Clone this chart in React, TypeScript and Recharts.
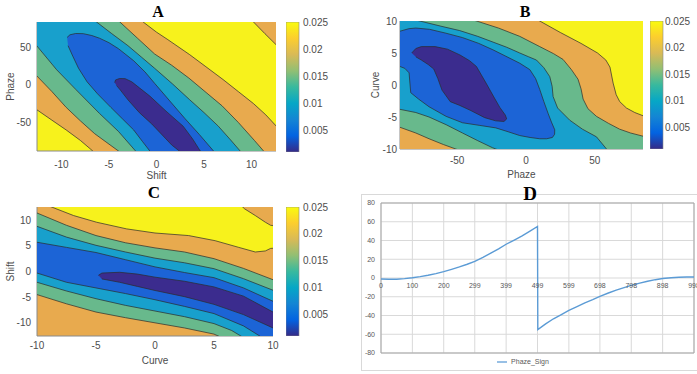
import React from "react";
import {
  Bar,
  BarChart,
  CartesianGrid,
  Label,
  Legend,
  Line,
  LineChart,
  ReferenceArea,
  Scatter,
  ScatterChart,
  XAxis,
  YAxis,
} from "recharts";

type Pt = [number, number];

// contour colours (parula levels, low -> high)
const NAVY = "#3b2c8e";
const BLUE = "#1c64d6";
const TEAL = "#18a0cc";
const GREEN = "#68b98c";
const ORANGE = "#e8aa4e";
const YELLOW = "#f7f21c";
const EDGE = "#2b2b2b";
const BOX = "#8a8a8a";
const SANS = '"Liberation Sans", Arial, sans-serif';
const TICK = { fontSize: 10, fill: "#4d4d4d", fontFamily: SANS };

const PARULA: [number, string][] = [
  [0, "#352a87"],
  [0.125, "#0363e1"],
  [0.25, "#1485d4"],
  [0.375, "#06a7c6"],
  [0.5, "#38b99e"],
  [0.625, "#92bf73"],
  [0.75, "#d9ba56"],
  [0.875, "#fcce2e"],
  [1, "#f9fb0e"],
];

// shared axis ticks
const SHIFT_TICKS = [-10, -5, 0, 5, 10];
const CURVE_TICKS = [-10, -5, 0, 5, 10];
const PHAZE_TICKS = [-50, 0, 50];
const SHIFT_DOMAIN: [number, number] = [-12.566, 12.566];
const CURVE_DOMAIN: [number, number] = [-10, 10];
const A_PHAZE_DOMAIN: [number, number] = [-88, 83.5];
const B_PHAZE_DOMAIN: [number, number] = [-91.5, 85];

// colorbar
const CB_RANGE: [number, number] = [0.00095, 0.025];
const CB_TICKS = [0.005, 0.01, 0.015, 0.02, 0.025];

// ---- panel A: x = Shift, y = Phaze (region outlines, painted low level last)
const A_ORANGE: Pt[] = [
  [-13.5, -25], [-12.6, -33], [-11, -47], [-9.5, -60], [-8, -74], [-6.7, -88], [-6.05, -95],
  [13.5, -95], [13.5, -67], [12.6, -55], [11.5, -40], [10.2, -25], [8.6, -9], [7, 7],
  [5.2, 24], [3.5, 40], [1.2, 60], [0, 70], [-1.4, 83.5], [-2.2, 92], [-13.5, 92],
];
const A_ORANGE_CORNER: Pt[] = [
  [9.54, 92], [10.2, 83.5], [11.4, 68], [12.6, 53], [13.5, 41.8], [13.5, 92],
];
const A_GREEN: Pt[] = [
  [-13.5, 23.8], [-12.6, 12], [-11, -9], [-9.5, -30], [-8, -48], [-6.5, -65], [-5.2, -77],
  [-4, -88], [-3.24, -95], [11.74, -95], [11.26, -88], [10.3, -74], [8.6, -50], [6.9, -28],
  [5.1, -9], [3.4, 9], [1.6, 26], [-0.2, 41], [-2, 62], [-3.85, 83.5], [-4.58, 92], [-13.5, 92],
];
const A_TEAL: Pt[] = [
  [-13.5, 65.7], [-12.6, 52], [-10.5, 20], [-8.5, -6], [-6, -38], [-4, -62], [-2.2, -88],
  [-1.7, -95], [9.28, -95], [8.8, -88], [7.7, -72], [6.5, -55], [5, -37], [3.5, -20],
  [1.7, 1], [-0.2, 22], [-1.6, 37], [-3, 52], [-4.7, 68], [-6.3, 83.5], [-7.18, 92], [-13.5, 92],
];
const A_BLUE: Pt[] = [
  [-9.4, 63], [-9.1, 66.5], [-8.5, 68.2], [-7.7, 68], [-6.8, 65.5], [-6, 62], [-5, 56],
  [-4, 48], [-2.4, 32], [-1.2, 17], [-0.2, 2], [1.5, -23], [3, -45], [4.5, -66], [6, -88],
  [6.48, -95], [-0.26, -95], [-0.7, -88], [-1.5, -75], [-2.4, -60], [-3.6, -45], [-4.8, -30],
  [-6.2, -12], [-7.3, 4], [-8.2, 22], [-8.8, 38], [-9.3, 52],
];
const A_NAVY: Pt[] = [
  [-4.4, 3], [-4.3, 6.5], [-3.9, 8.3], [-3.3, 8.2], [-2.6, 4], [-1.8, -4], [-0.7, -15],
  [1, -35], [2.8, -55], [3.8, -72], [4.6, -88], [5.2, -95], [3.0, -95], [2.4, -88],
  [1.6, -80], [1, -72], [-0.5, -52], [-1.8, -37], [-3, -20], [-3.8, -7], [-4.2, -1],
];

// ---- panel B: x = Phaze, y = Curve
const B_ORANGE: Pt[] = [
  [1.7, 11], [10, 10], [25, 8.2], [40, 6.5], [52, 5], [58, 3.9], [61, 2.8], [63.3, 0.3],
  [65.5, -1.5], [68.1, -2.6], [73, -3.6], [79, -4.3], [85, -4.8], [95, -5.6],
  [95, -12], [-95, -12], [-95, 11],
];
const B_GREEN: Pt[] = [
  [-95, 11], [-50, 11], [-35.9, 10], [-20, 8.9], [-4.5, 7.6], [10, 6], [20, 4.9], [26.9, 4],
  [33, 2.4], [37.8, 0.9], [40, -0.6], [41.5, -2.2], [45, -3.7], [51.2, -4.9], [60, -6],
  [68, -6.9], [76, -7.5], [85, -8], [95, -8.56], [95, -12], [-38, -11], [-51, -10],
  [-60, -9.3], [-70.4, -8.4], [-80, -7.5], [-91.6, -6.6], [-95, -6.35],
];
const B_TEAL: Pt[] = [
  [-95, 11], [-77.1, 10], [-62, 9.2], [-48.1, 8.5], [-35, 7.6], [-23.9, 6.7], [-14, 5.9],
  [-4.5, 5], [2, 4.4], [7.6, 3.9], [13, 2.7], [17.3, 1.3], [19, -0.2], [19.7, -1.8],
  [23, -3.6], [31.8, -5.5], [41, -6.9], [51.2, -8.1], [58.5, -10], [62.3, -11],
  [-9.9, -11], [-21.9, -10], [-24.3, -9.8], [-35, -8.7], [-46.1, -7.5], [-58, -6.2],
  [-70.4, -5], [-80, -4.3], [-91.6, -3.8], [-95, -3.7],
];
const B_BLUE: Pt[] = [
  [-95, 8.4], [-91.6, 8.4], [-85, 8.8], [-80, 8.9], [-70, 8.7], [-58.2, 8.1], [-46, 7.4],
  [-34.3, 6.5], [-24, 5.5], [-14.7, 4.5], [-4.5, 3.4], [2.8, 2.4], [7, 1], [10, -0.7],
  [13, -2.6], [16, -4.4], [18.5, -5.8], [20.9, -7], [20.8, -7.7], [19.2, -8.2], [15, -8.4],
  [10, -8.4], [3, -8.2], [-4.5, -7.9], [-13, -7.3], [-21.9, -6.7], [-34, -6.3], [-46.1, -5.9],
  [-58, -4.9], [-70.4, -3.4], [-78, -2.2], [-83.7, -1.2], [-84.3, 0.3], [-84.9, 1.9],
  [-88, 2.6], [-91.6, 2.9], [-95, 2.9],
];
const B_NAVY: Pt[] = [
  [-83, 5], [-80, 5.7], [-76, 6], [-66, 6], [-57, 5.6], [-48, 4.7], [-41, 3.8], [-36, 2.9],
  [-29, 0.3], [-23, -2], [-19, -3.5], [-15, -4.7], [-14, -5.3], [-16, -5.7], [-22, -5.6],
  [-30, -5.1], [-40, -4], [-48, -3.2], [-55, -2.6], [-61, -0.8], [-64, 1], [-67, 2.5],
  [-71, 3.2], [-76, 3.9], [-80, 4.4],
];

// ---- panel C: x = Curve, y = Shift (orange background)
const C_YELLOW: Pt[] = [
  [-9.8, 13.5], [-8.8, 12.6], [-6.9, 10.9], [-4.95, 9.6], [-2.4, 8.3], [0, 7.5], [2.85, 7],
  [5.1, 6], [7.1, 4.7], [8.5, 3.8], [9.35, 4], [9.8, 4.5], [10.5, 4.6], [10.5, 8.8],
  [9.8, 9], [9.35, 9.6], [8.5, 10.9], [7.6, 12.2], [7, 13.5],
];
const C_GREEN: Pt[] = [
  [-10.5, 11.9], [-10, 11.4], [-7.5, 9], [-5, 7], [-2.5, 5.6], [0, 4.6], [2.5, 3.8], [5, 2.5],
  [7.5, 0.6], [10, -1.6], [10.5, -2.04], [10.5, -14], [6.8, -14], [6, -13.2], [5, -12.2],
  [2.5, -11], [0, -10], [-2.5, -9], [-5, -7.9], [-7.5, -6.3], [-10, -4.5], [-10.5, -4.14],
];
const C_TEAL: Pt[] = [
  [-10.5, 9.22], [-10, 8.8], [-7.5, 6.7], [-5, 5.1], [-2.5, 3.8], [0, 2.6], [2.5, 1.7],
  [5, 0.55], [7.5, -1.4], [10, -3.65], [10.5, -4.1], [10.5, -14], [8.3, -14], [7.3, -12.6],
  [6.5, -11.5], [5, -10.15], [2.5, -8.8], [0, -7.7], [-2.5, -6.6], [-5, -5.3], [-7.5, -3.8],
  [-10, -2.1], [-10.5, -1.76],
];
const C_BLUE: Pt[] = [
  [-10.5, 5.9], [-10, 5.7], [-7.5, 4.7], [-5, 3.7], [-2.5, 2.3], [0, 0.9], [2.5, -0.2],
  [5, -1.2], [7.5, -3.2], [10, -5.8], [10.5, -6.32], [10.5, -14], [9.8, -14], [9.5, -13.5],
  [8.9, -12.6], [7.5, -10.6], [5, -8.2], [2.5, -6.8], [0, -5.5], [-2.5, -4.3], [-5, -3.2],
  [-7.5, -2.1], [-10, -0.3], [-10.5, 0.06],
];
const C_NAVY: Pt[] = [
  [-4.8, -0.75], [-4.5, -0.3], [-3, -0.15], [-1.5, -0.5], [0, -1.1], [2.5, -1.9], [5, -3],
  [7.5, -4.8], [10, -7.9], [10.5, -8.52], [10.5, -11.52], [10, -11], [7.5, -8.4], [5, -6.4],
  [2.5, -4.9], [0, -3.7], [-1.5, -2.9], [-3, -2.1], [-4.5, -1.45],
];

// ---- panel D: Phaze_Sign line
const D_X = [
  0, 25, 50, 75, 100, 125, 150, 175, 200, 225, 250, 275, 299, 325, 350, 375, 399, 425, 450, 475, 499,
  500, 525, 550, 575, 599, 625, 650, 675, 698, 725, 750, 775, 798, 825, 850, 875, 898, 925, 950, 975, 998,
];
const D_Y = [
  -1, -1.3, -1.3, -0.7, 0.3, 1.5, 3, 4.7, 6.8, 9.2, 11.8, 14.7, 17.8, 22, 26.5, 31, 36, 40.5, 45, 50, 55,
  -55, -49, -43.5, -39, -34.5, -30.5, -26.5, -23, -19.5, -16, -13, -10.3, -7.8, -5.5, -3.5, -1.8, -0.5, 0.3, 0.8, 1, 1,
];
const D_X_TICKS = [0, 100, 200, 299, 399, 499, 599, 698, 798, 898, 998];
const D_Y_TICKS = [-80, -60, -40, -20, 0, 20, 40, 60, 80];
const D_PLOT_H = 150;

const toXY = (pts: Pt[]) => pts.map(([x, y]) => ({ x, y }));
const NoDot = () => <g />;

interface Band {
  pts: Pt[];
  fill: string;
}

interface PanelProps {
  left: number;
  top: number;
  width: number;
  height: number;
  margin: { top: number; right: number; bottom: number; left: number };
  xDomain: [number, number];
  yDomain: [number, number];
  xTicks: number[];
  yTicks: number[];
  xLabel: string;
  yLabel: string;
  background: string;
  bands: Band[];
  yAxisWidth: number;
  xAxisHeight: number;
  xTickGap: number;
  yTickGap: number;
  xLabelOffset: number;
  yLabelOffset: number;
}

function ContourPanel(p: PanelProps) {
  return (
    <div style={{ position: "absolute", left: p.left, top: p.top }}>
      <ScatterChart width={p.width} height={p.height} margin={p.margin}>
        <CartesianGrid fill={p.background} stroke="none" />
        {p.bands.map((b, i) => (
          <Scatter
            key={i}
            data={toXY(b.pts)}
            fill={b.fill}
            line={{ fill: b.fill, stroke: EDGE, strokeWidth: 0.7 }}
            lineJointType="linear"
            shape={NoDot}
            legendType="none"
            isAnimationActive={false}
          />
        ))}
        <XAxis
          type="number"
          dataKey="x"
          domain={p.xDomain}
          ticks={p.xTicks}
          allowDataOverflow
          height={p.xAxisHeight}
          tickLine={false}
          tickSize={0}
          tickMargin={p.xTickGap}
          axisLine={{ stroke: BOX }}
          tick={TICK}
        >
          <Label value={p.xLabel} position="insideBottom" offset={p.xLabelOffset} fill="#4d4d4d" fontSize={10} fontFamily={SANS} />
        </XAxis>
        <YAxis
          type="number"
          dataKey="y"
          domain={p.yDomain}
          ticks={p.yTicks}
          allowDataOverflow
          width={p.yAxisWidth}
          tickLine={false}
          tickSize={0}
          tickMargin={p.yTickGap}
          axisLine={{ stroke: BOX }}
          tick={TICK}
        >
          <Label
            value={p.yLabel}
            angle={-90}
            position="insideLeft"
            offset={p.yLabelOffset}
            fill="#4d4d4d"
            fontSize={10}
            fontFamily={SANS}
            style={{ textAnchor: "middle" }}
          />
        </YAxis>
        <XAxis xAxisId="top" orientation="top" type="number" domain={p.xDomain} height={0} tick={false} tickLine={false} axisLine={{ stroke: BOX }} />
        <YAxis yAxisId="right" orientation="right" type="number" domain={p.yDomain} width={0} tick={false} tickLine={false} axisLine={{ stroke: BOX }} />
      </ScatterChart>
    </div>
  );
}

function Colorbar({ id, left, top, marginTop, marginBottom, gap }: { id: string; left: number; top: number; marginTop: number; marginBottom: number; gap: number }) {
  const data = [{ name: "level", range: CB_RANGE }];
  return (
    <div style={{ position: "absolute", left, top }}>
      <BarChart width={58} height={190} data={data} margin={{ top: marginTop, right: 0, bottom: marginBottom, left: 0 }} barCategoryGap={0}>
        <defs>
          <linearGradient id={id} x1="0" y1="1" x2="0" y2="0">
            {PARULA.map(([o, c]) => (
              <stop key={o} offset={o} stopColor={c} />
            ))}
          </linearGradient>
        </defs>
        <XAxis dataKey="name" hide />
        <YAxis
          orientation="right"
          type="number"
          domain={CB_RANGE}
          ticks={CB_TICKS}
          allowDataOverflow
          width={45}
          axisLine={false}
          tickLine={false}
          tickSize={0}
          tickMargin={gap}
          tick={TICK}
          interval={0}
        />
        <Bar dataKey="range" fill={`url(#${id})`} stroke={BOX} strokeWidth={0.6} isAnimationActive={false} />
      </BarChart>
    </div>
  );
}

function Title({ text, cx, top, size }: { text: string; cx: number; top: number; size: number }) {
  return (
    <div
      style={{
        position: "absolute",
        left: cx - 20,
        top,
        width: 40,
        textAlign: "center",
        fontFamily: '"Liberation Serif", "Times New Roman", serif',
        fontWeight: "bold",
        fontSize: size,
        lineHeight: `${size}px`,
        color: "#000",
      }}
    >
      {text}
    </div>
  );
}

// Excel draws the category labels next to the zero line, i.e. half the plot height above the bottom
const renderZeroTick = (props: any) => {
  const { x, y, payload } = props;
  return (
    <text x={x} y={y - D_PLOT_H / 2 + 10} textAnchor="middle" fontSize={7} fill="#595959" fontFamily={SANS}>
      {payload.value}
    </text>
  );
};

export default function App() {
  const dData = D_X.map((x, i) => ({ x, y: D_Y[i] }));
  return (
    <div style={{ position: "absolute", left: 0, top: 0, width: 697, height: 374, overflow: "hidden", background: "#fff" }}>
      <ContourPanel
        left={0}
        top={0}
        width={285}
        height={190}
        margin={{ top: 22, right: 9, bottom: 0, left: 7 }}
        xDomain={SHIFT_DOMAIN}
        yDomain={A_PHAZE_DOMAIN}
        xTicks={SHIFT_TICKS}
        yTicks={PHAZE_TICKS}
        xLabel="Shift"
        yLabel="Phaze"
        background={YELLOW}
        bands={[
          { pts: A_ORANGE, fill: ORANGE },
          { pts: A_ORANGE_CORNER, fill: ORANGE },
          { pts: A_GREEN, fill: GREEN },
          { pts: A_TEAL, fill: TEAL },
          { pts: A_BLUE, fill: BLUE },
          { pts: A_NAVY, fill: NAVY },
        ]}
        yAxisWidth={30}
        xAxisHeight={39}
        xTickGap={10}
        yTickGap={6}
        xLabelOffset={11}
        yLabelOffset={3}
      />
      <Colorbar id="cbA" left={286} top={0} marginTop={22} marginBottom={38} gap={4} />

      <ContourPanel
        left={350}
        top={0}
        width={300}
        height={190}
        margin={{ top: 21, right: 7, bottom: 0, left: 20 }}
        xDomain={B_PHAZE_DOMAIN}
        yDomain={CURVE_DOMAIN}
        xTicks={PHAZE_TICKS}
        yTicks={CURVE_TICKS}
        xLabel="Phaze"
        yLabel="Curve"
        background={YELLOW}
        bands={[
          { pts: B_ORANGE, fill: ORANGE },
          { pts: B_GREEN, fill: GREEN },
          { pts: B_TEAL, fill: TEAL },
          { pts: B_BLUE, fill: BLUE },
          { pts: B_NAVY, fill: NAVY },
        ]}
        yAxisWidth={30}
        xAxisHeight={41}
        xTickGap={8}
        yTickGap={3}
        xLabelOffset={12}
        yLabelOffset={5}
      />
      <Colorbar id="cbB" left={650} top={0} marginTop={21} marginBottom={41} gap={2} />

      <ContourPanel
        left={0}
        top={180}
        width={285}
        height={190}
        margin={{ top: 27, right: 12, bottom: 0, left: 7 }}
        xDomain={CURVE_DOMAIN}
        yDomain={SHIFT_DOMAIN}
        xTicks={CURVE_TICKS}
        yTicks={SHIFT_TICKS}
        xLabel="Curve"
        yLabel="Shift"
        background={ORANGE}
        bands={[
          { pts: C_YELLOW, fill: YELLOW },
          { pts: C_GREEN, fill: GREEN },
          { pts: C_TEAL, fill: TEAL },
          { pts: C_BLUE, fill: BLUE },
          { pts: C_NAVY, fill: NAVY },
        ]}
        yAxisWidth={30}
        xAxisHeight={34}
        xTickGap={6}
        yTickGap={6}
        xLabelOffset={6}
        yLabelOffset={3}
      />
      <Colorbar id="cbC" left={286} top={180} marginTop={27} marginBottom={34} gap={4} />

      <div style={{ position: "absolute", left: 361, top: 194, width: 340, height: 175, border: "1px solid #d9d9d9", background: "#fff" }}>
        <LineChart width={340} height={175} data={dData} margin={{ top: 8, right: 8, bottom: 16, left: 0 }}>
          <CartesianGrid stroke="#d9d9d9" />
          <XAxis
            dataKey="x"
            type="number"
            domain={[0, 998]}
            ticks={D_X_TICKS}
            interval={0}
            height={1}
            axisLine={false}
            tickLine={false}
            tickSize={0}
            tickMargin={0}
            tick={renderZeroTick}
          />
          <YAxis
            type="number"
            domain={[-80, 80]}
            ticks={D_Y_TICKS}
            interval={0}
            width={19}
            axisLine={false}
            tickLine={false}
            tickSize={0}
            tickMargin={6}
            tick={{ fontSize: 7, fill: "#595959", fontFamily: SANS }}
          />
          <ReferenceArea x1={0} x2={998} y1={-80} y2={80} fill="none" stroke="#a6a6a6" />
          <Line dataKey="y" name="Phaze_Sign" type="linear" stroke="#5b9bd5" strokeWidth={1.4} dot={false} isAnimationActive={false} />
          <Legend
            verticalAlign="middle"
            align="center"
            layout="horizontal"
            iconType="plainline"
            iconSize={10}
            wrapperStyle={{ top: 162, fontSize: 7, fontFamily: SANS }}
            formatter={(v: string) => <span style={{ color: "#595959" }}>{v}</span>}
          />
        </LineChart>
      </div>

      <Title text="A" cx={158} top={4} size={16} />
      <Title text="B" cx={525} top={4} size={16} />
      <Title text="C" cx={154} top={184} size={17} />
      <Title text="D" cx={530} top={184} size={19} />
    </div>
  );
}
